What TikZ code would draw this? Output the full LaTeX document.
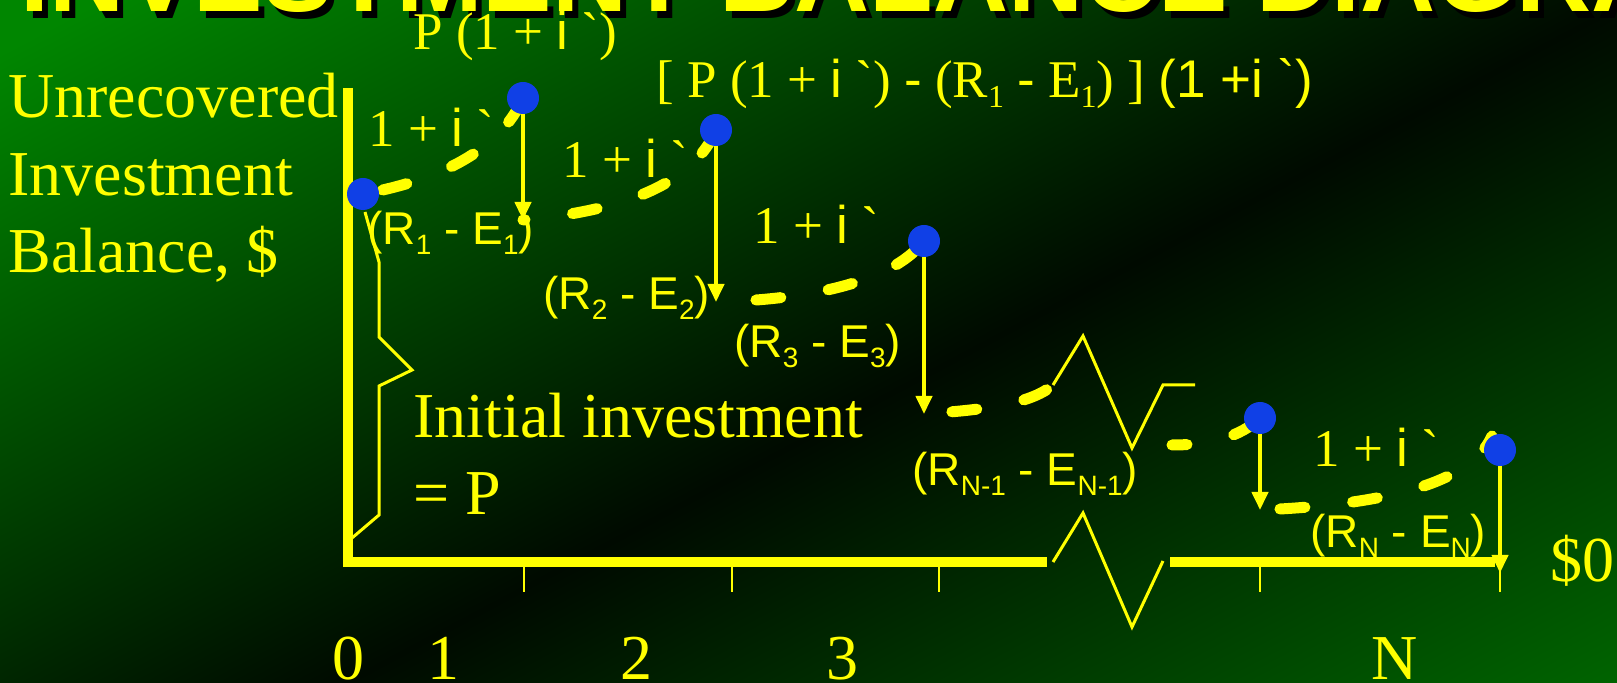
\documentclass[tikz,border=0pt]{standalone}
\usepackage{fontspec}
\newfontfamily\tnr{Liberation Serif}
\newfontfamily\arl{Liberation Sans}
\usetikzlibrary{arrows.meta}
\definecolor{yel}{RGB}{255,255,0}
\definecolor{gA}{RGB}{0,134,0}
\definecolor{gB}{RGB}{0,118,0}
\definecolor{dk}{RGB}{0,10,0}
\definecolor{dotblue}{RGB}{16,64,230}
\pgfdeclareverticalshading{bgshade}{100bp}{color(0bp)=(gB); color(30bp)=(gB); color(50bp)=(dk); color(70bp)=(gA); color(100bp)=(gA)}
\newcommand\sbs[1]{\raisebox{-5pt}{\fontsize{14}{14}\selectfont #1}}
\newcommand\sbt[1]{\raisebox{-5pt}{\fontsize{16}{16}\selectfont #1}}
\begin{document}
\begin{tikzpicture}[x=0.5pt,y=-0.5pt,
  bigserif/.style={font=\tnr\fontsize{32}{38}\selectfont, text=yel, inner sep=0, anchor=base west},
  midserif/.style={font=\tnr\fontsize{26.5}{32}\selectfont, text=yel, inner sep=0, anchor=base west},
  sanslab/.style={font=\arl\fontsize{23}{28}\selectfont, text=yel, inner sep=0, anchor=base west},
  numlab/.style={font=\tnr\fontsize{32}{38}\selectfont, text=yel, inner sep=0, anchor=base},
  dot/.style={circle, fill=dotblue, minimum size=16pt, inner sep=0},
  drop/.style={draw=yel, line width=2pt, -{Triangle[width=8pt,length=9pt]}},
  growth/.style={draw=yel, line width=5.5pt, line cap=round, dash pattern=on 12.5pt off 24pt},
  thinline/.style={draw=yel, line width=1.5pt},
  axisline/.style={draw=yel, line width=5pt},
  tickline/.style={draw=yel, line width=1pt},
  titlefont/.style={font=\arl\bfseries\fontsize{52}{60}\selectfont, inner sep=0, anchor=base west}]
\useasboundingbox (0,0) rectangle (1617,683);
\begin{scope}
  \clip (0,0) rectangle (1617,683);
  \fill[dk] (0,0) rectangle (1617,683);
  \shade[shading=bgshade, shading angle=28] (-92,-463) rectangle (1708,1337);
  \node[titlefont, text=black] (titleshadow) at (26,19) {INVESTMENT BALANCE DIAGRAM};
  \node[titlefont, text=yel] (title) at (20,12) {INVESTMENT BALANCE DIAGRAM};
\end{scope}

% axes
\coordinate (ytop) at (348,88);
\coordinate (orig) at (348,562);
\coordinate (xbreakL) at (1047,562);
\coordinate (xbreakR) at (1170,562);
\coordinate (xend) at (1495,562);
\draw[axisline] (ytop) -- (orig);
\draw[axisline] (343,562) -- (xbreakL);
\draw[axisline] (xbreakR) -- (xend);
\foreach \t in {524,732,939,1260,1500} \draw[tickline] (\t,567) -- (\t,592);

% break zigzags
\draw[thinline] (1053,385) -- (1083,336) -- (1132,448) -- (1163,385) -- (1195,385);
\draw[thinline] (1053,562) -- (1083,513) -- (1132,627) -- (1163,561);

% brace
\draw[thinline] (365,212) -- (379,262) -- (379,337) -- (412,370) -- (379,386) -- (379,515) -- (352,538);

% points
\coordinate (pA) at (363,194);
\coordinate (pB) at (523,98);
\coordinate (pC) at (716,130);
\coordinate (pD) at (924,241);
\coordinate (pE) at (1260,418);
\coordinate (pF) at (1500,450);
\coordinate (tB) at (523,220);
\coordinate (tC) at (716,302);
\coordinate (tD) at (924,414);
\coordinate (tE) at (1260,510);
\coordinate (tF) at (1500,573);
\coordinate (brk1) at (1053,385);
\coordinate (brk2) at (1172,445);
\coordinate (endF) at (1492,436);

% growth curves
\draw[growth, dash phase=26.5pt] (pA) .. controls (440,180) and (500,150) .. (pB);
\draw[growth, dash phase=11.5pt] (tB) .. controls (610,212) and (690,190) .. (pC);
\draw[growth, dash phase=16.5pt] (tC) .. controls (800,300) and (890,285) .. (pD);
\draw[growth, dash phase=22.5pt] (tD) .. controls (980,410) and (1030,405) .. (brk1);
\draw[growth, dash phase=5pt] (brk2) .. controls (1210,445) and (1240,437) .. (pE);
\draw[growth, dash phase=26.5pt] (tE) .. controls (1380,505) and (1470,485) .. (endF);

% dots
\node[dot] (A) at (pA) {};
\node[dot] (B) at (pB) {};
\node[dot] (C) at (pC) {};
\node[dot] (D) at (pD) {};
\node[dot] (E) at (pE) {};
\node[dot] (F) at (pF) {};

% drops
\draw[drop] (B) -- (tB);
\draw[drop] (C) -- (tC);
\draw[drop] (D) -- (tD);
\draw[drop] (E) -- (tE);
\draw[drop] (F) -- (tF);

% texts
\node[bigserif] (ylab1) at (8,118) {Unrecovered};
\node[bigserif] (ylab2) at (8,196) {Investment};
\node[bigserif] (ylab3) at (8,273) {Balance, \$};
\node[bigserif] (init1) at (413,438) {Initial investment};
\node[bigserif] (init2) at (413,515) {= P};
\node[bigserif] (zero) at (1550,582) {\$0};

\node[midserif] (pone) at (413,50) {P (1 + {\arl i} `)};
\node[midserif] (formula) at (656,98) {[ P (1 + {\arl i} `) {\arl -} (R\sbt{1} {\arl -} E\sbt{1}) ] {\arl (1 +i `)}};
\node[midserif] (g1) at (368,147) {1 + {\arl i} `};
\node[midserif] (g2) at (562,178) {1 + {\arl i} `};
\node[midserif] (g3) at (753,244) {1 + {\arl i} `};
\node[midserif] (g4) at (1313,467) {1 + {\arl i} `};

\node[sanslab] (re1) at (367,245) {(R\sbs{1} - E\sbs{1})};
\node[sanslab] (re2) at (543,310) {(R\sbs{2} - E\sbs{2})};
\node[sanslab] (re3) at (734,358) {(R\sbs{3} - E\sbs{3})};
\node[sanslab] (ren1) at (912,486) {(R\sbs{N-1} - E\sbs{N-1})};
\node[sanslab] (ren) at (1310,548) {(R\sbs{N} - E\sbs{N})};

\node[numlab] (n0) at (348,679) {0};
\node[numlab] (n1) at (443,679) {1};
\node[numlab] (n2) at (636,679) {2};
\node[numlab] (n3) at (842,679) {3};
\node[numlab] (nN) at (1395,679) {N};
\end{tikzpicture}
\end{document}
